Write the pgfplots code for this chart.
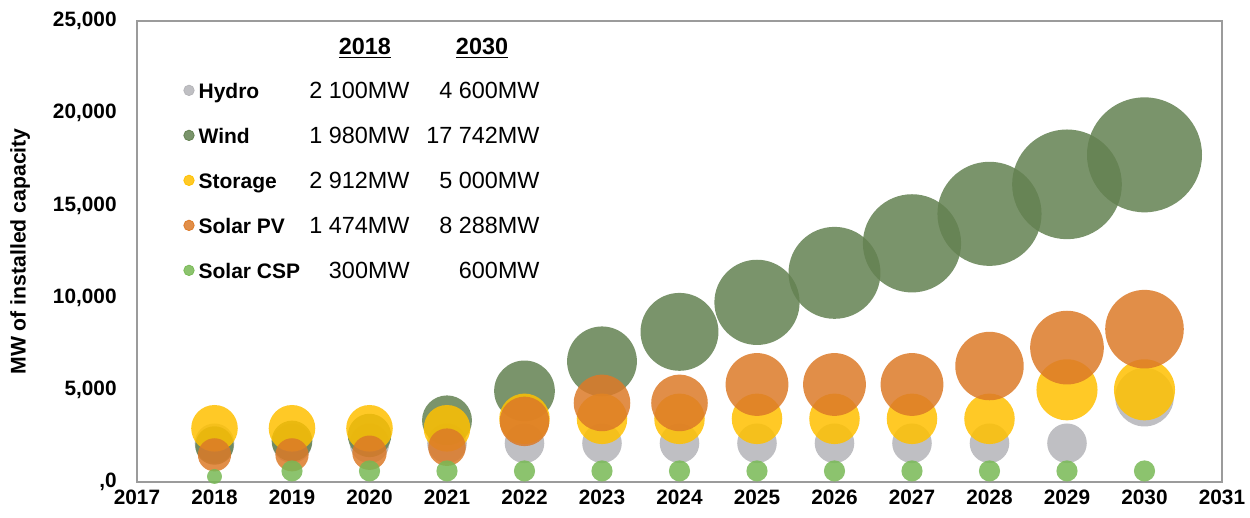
\documentclass[border=0pt]{standalone}
\usepackage{pgfplots}
\pgfplotsset{compat=1.18}
\usepackage{pgfplotstable}
\usepackage{fontspec}
\setmainfont{Liberation Sans}

\definecolor{cHydro}{RGB}{180,180,184}
\definecolor{cWind}{RGB}{99,129,81}
\definecolor{cStor}{RGB}{255,192,0}
\definecolor{cPV}{RGB}{220,122,40}
\definecolor{cCSP}{RGB}{120,185,85}
\definecolor{frame}{RGB}{155,155,155}

\pgfplotstableread{
year v
2018 2100
2019 2100
2020 2100
2021 2100
2022 2100
2023 2100
2024 2100
2025 2100
2026 2100
2027 2100
2028 2100
2029 2100
2030 4600
}\hydro
\pgfplotstableread{
year v
2018 1980
2019 2224
2020 2524
2021 3342
2022 4942
2023 6542
2024 8142
2025 9742
2026 11342
2027 12942
2028 14542
2029 16142
2030 17742
}\wind
\pgfplotstableread{
year v
2018 2912
2019 2912
2020 2912
2021 2912
2022 3425
2023 3425
2024 3425
2025 3425
2026 3425
2027 3425
2028 3425
2029 5000
2030 5000
}\storage
\pgfplotstableread{
year v
2018 1474
2019 1474
2020 1588
2021 1888
2022 3288
2023 4288
2024 4288
2025 5288
2026 5288
2027 5288
2028 6288
2029 7288
2030 8288
}\pv
\pgfplotstableread{
year v
2018 300
2019 600
2020 600
2021 600
2022 600
2023 600
2024 600
2025 600
2026 600
2027 600
2028 600
2029 600
2030 600
}\csp

\pgfplotsset{
  bubble/.style={scatter, only marks, mark=*,
    scatter/use mapped color={draw opacity=0, fill=#1, fill opacity=0.85},
    visualization depends on={0.21585*sqrt(\thisrow{v}) \as \rad},
    scatter/@pre marker code/.append style={/tikz/mark size=\rad},
    legend image code/.code={\fill[#1, fill opacity=0.85] (0pt,0pt) circle (2.6pt);}
  }
}

\newcommand{\entry}[3]{\makebox[50pt][l]{\bfseries\fontsize{10.5}{12}\selectfont #1}\makebox[55.5pt][r]{#2}\makebox[65pt][r]{#3}}

\begin{document}
\begin{tikzpicture}
\path[use as bounding box] (-68.5pt,-18pt) rectangle (556.5pt,241pt);
\begin{axis}[
  scale only axis, width=542.5pt, height=230.5pt,
  xmin=2017, xmax=2031, ymin=0, ymax=25000,
  xtick={2017,2018,...,2031},
  xticklabels={2017,2018,2019,2020,2021,2022,2023,2024,2025,2026,2027,2028,2029,2030,2031},
  ytick={0,5000,10000,15000,20000,25000},
  yticklabels={{,0},{5,000},{10,000},{15,000},{20,000},{25,000}},
  scaled y ticks=false,
  major tick length=0pt,
  axis line style={draw=frame, line width=0.8pt},
  ticklabel style={font=\fontsize{10.4}{12}\selectfont\bfseries},
  xticklabel style={inner sep=0pt, anchor=north, yshift=-3.8pt},
  yticklabel style={inner sep=0pt, anchor=east, xshift=-10pt},
  ylabel={MW of installed capacity},
  every axis y label/.style={at={(axis description cs:-0.1078,0.5)}, rotate=90, anchor=center,
    font=\fontsize{10.6}{12}\selectfont\bfseries},
  legend cell align=left,
  legend style={draw=none, fill=none, inner sep=0pt, at={(rel axis cs:0.0424,0.8686)}, anchor=north west,
    row sep=14.1pt, column sep=2pt,
    nodes={inner sep=0pt, text height=8.4pt, text depth=0pt, font=\fontsize{11.7}{13}\selectfont}},
]
\addplot[bubble=cHydro] table[x=year, y=v] {\hydro};
\addlegendentry{\entry{Hydro}{2 100MW}{4 600MW}}
\addplot[bubble=cWind] table[x=year, y=v] {\wind};
\addlegendentry{\entry{Wind}{1 980MW}{17 742MW}}
\addplot[bubble=cStor] table[x=year, y=v] {\storage};
\addlegendentry{\entry{Storage}{2 912MW}{5 000MW}}
\addplot[bubble=cPV] table[x=year, y=v] {\pv};
\addlegendentry{\entry{Solar PV}{1 474MW}{8 288MW}}
\addplot[bubble=cCSP] table[x=year, y=v] {\csp};
\addlegendentry{\entry{Solar CSP}{300MW}{600MW}}
\node[font=\fontsize{11.7}{13}\selectfont\bfseries, inner sep=0pt] at (rel axis cs:0.2101,0.9414) {\underline{2018}};
\node[font=\fontsize{11.7}{13}\selectfont\bfseries, inner sep=0pt] at (rel axis cs:0.3180,0.9414) {\underline{2030}};
\end{axis}
\end{tikzpicture}
\end{document}
